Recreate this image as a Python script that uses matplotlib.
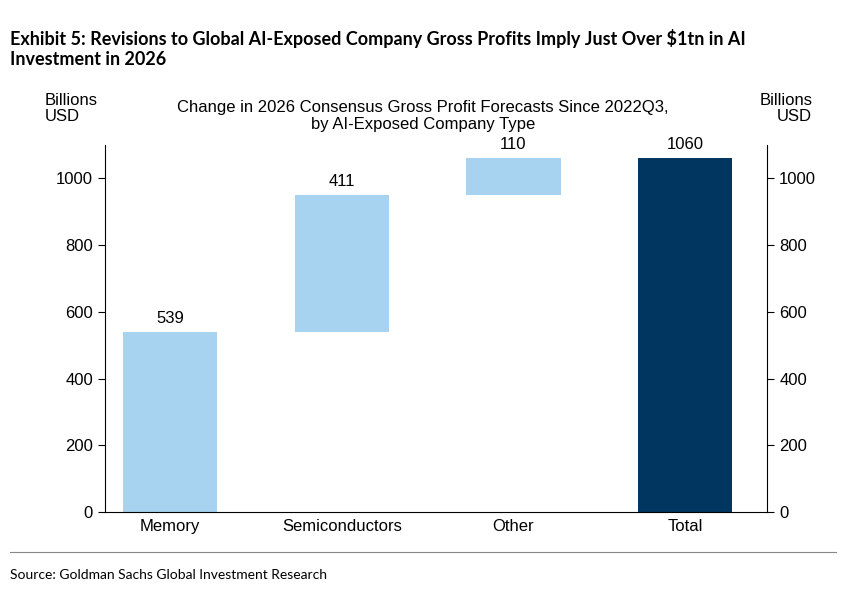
import numpy as np
import matplotlib.pyplot as plt

categories = ["Memory", "Semiconductors", "Other", "Total"]
changes = [539, 411, 110]
total = 1060
labels = ["539", "411", "110", "1060"]

light = "#A8D3F0"
dark = "#00365F"
fs = 12

fig = plt.figure(figsize=(8.46, 5.92), dpi=100)
ax = fig.add_axes([0.124, 0.135, 0.783, 0.62])

bottoms = np.concatenate([[0], np.cumsum(changes)[:-1]])
x = np.arange(len(categories))
ax.bar(x[:3], changes, bottom=bottoms, width=0.55, color=light)
ax.bar(x[3], total, width=0.55, color=dark)

tops = list(bottoms + np.array(changes)) + [total]
for xi, t, lab in zip(x, tops, labels):
    ax.text(xi, t + 18, lab, ha="center", va="bottom", fontsize=fs, family="Liberation Sans")

ax.set_xlim(-0.38, 3.48)
ax.set_ylim(0, 1100)
ax.set_xticks(x)
ax.set_xticklabels(categories, fontsize=fs, family="Liberation Sans")
ax.tick_params(axis="x", length=0, pad=5)
ax.set_yticks(range(0, 1001, 200))
ax.tick_params(axis="y", labelsize=fs, direction="out", length=5, right=True, labelright=True)
for t in ax.get_yticklabels():
    t.set_family("Liberation Sans")
ax.spines["top"].set_visible(False)

fig.text(0.053, 0.79, "Billions\nUSD", fontsize=fs, family="Liberation Sans", ha="left", va="bottom", linespacing=1.15)
fig.text(0.96, 0.79, "Billions\nUSD", fontsize=fs, family="Liberation Sans", ha="right", va="bottom", linespacing=1.15)
fig.text(0.5, 0.777, "Change in 2026 Consensus Gross Profit Forecasts Since 2022Q3,\nby AI-Exposed Company Type",
         fontsize=fs, family="Liberation Sans", ha="center", va="bottom", linespacing=1.15)

fig.text(0.012, 0.885, "Exhibit 5: Revisions to Global AI-Exposed Company Gross Profits Imply Just Over $1tn in AI\nInvestment in 2026",
         fontsize=13, fontweight="bold", ha="left", va="bottom", family="Lato", linespacing=1.25)
fig.add_artist(plt.Line2D([0.012, 0.988], [0.068, 0.068], color="#888888", lw=0.8))
fig.text(0.012, 0.022, "Source: Goldman Sachs Global Investment Research", fontsize=10, family="Lato")

fig.savefig("out.png", dpi=100)
